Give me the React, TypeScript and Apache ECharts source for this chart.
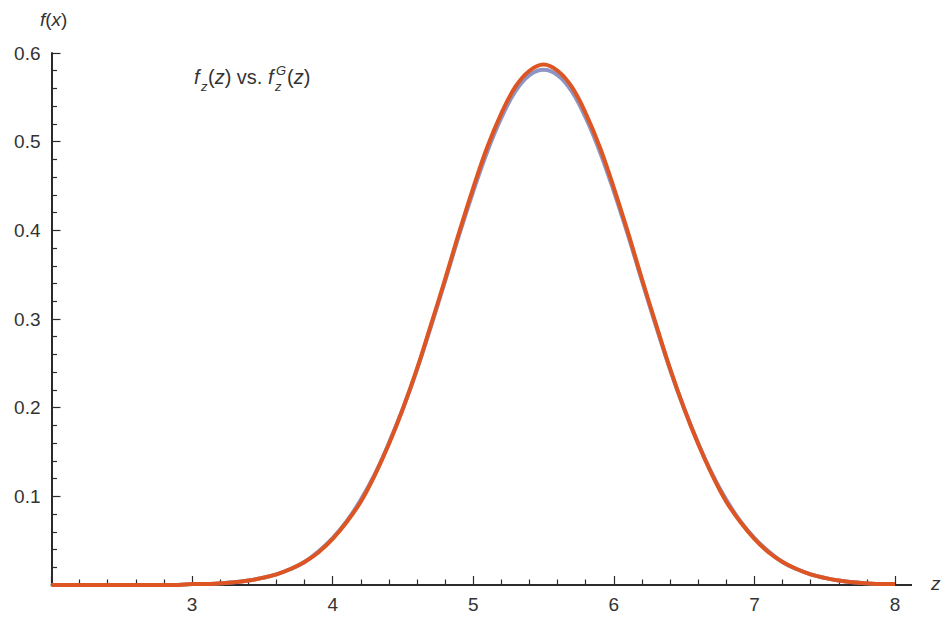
import React, { useEffect, useRef } from "react";
import * as echarts from "echarts";

const zValues = [
  2.0, 2.1, 2.2, 2.3, 2.4, 2.5, 2.6, 2.7, 2.8, 2.9,
  3.0, 3.1, 3.2, 3.3, 3.4, 3.5, 3.6, 3.7, 3.8, 3.9,
  4.0, 4.1, 4.2, 4.3, 4.4, 4.5, 4.6, 4.7, 4.8, 4.9,
  5.0, 5.1, 5.2, 5.3, 5.4, 5.5, 5.6, 5.7, 5.8, 5.9,
  6.0, 6.1, 6.2, 6.3, 6.4, 6.5, 6.6, 6.7, 6.8, 6.9,
  7.0, 7.1, 7.2, 7.3, 7.4, 7.5, 7.6, 7.7, 7.8, 7.9,
  8.0,
];

// f_z^G(z) — orange-red curve
const gaussValues = [
  0.0, 0.0, 0.0, 0.0, 0.0, 0.0, 0.0, 0.0, 0.0, 0.0,
  0.001, 0.001, 0.002, 0.003, 0.005, 0.008, 0.012, 0.018, 0.026, 0.037,
  0.052, 0.071, 0.094, 0.124, 0.159, 0.199, 0.244, 0.294, 0.345, 0.398,
  0.448, 0.494, 0.532, 0.562, 0.580, 0.587, 0.580, 0.562, 0.532, 0.494,
  0.448, 0.398, 0.345, 0.294, 0.244, 0.199, 0.159, 0.124, 0.094, 0.071,
  0.052, 0.037, 0.026, 0.018, 0.012, 0.008, 0.005, 0.003, 0.002, 0.001,
  0.001,
];

// f_z(z) — pale blue curve
const exactValues = [
  0.0, 0.0, 0.0, 0.0, 0.0, 0.0, 0.0, 0.0, 0.0, 0.0,
  0.001, 0.001, 0.002, 0.003, 0.005, 0.008, 0.012, 0.018, 0.026, 0.038,
  0.053, 0.072, 0.096, 0.125, 0.160, 0.199, 0.243, 0.292, 0.343, 0.395,
  0.444, 0.489, 0.527, 0.557, 0.575, 0.581, 0.575, 0.557, 0.527, 0.489,
  0.444, 0.395, 0.343, 0.292, 0.243, 0.199, 0.160, 0.125, 0.096, 0.072,
  0.053, 0.038, 0.026, 0.018, 0.012, 0.008, 0.005, 0.003, 0.002, 0.001,
  0.001,
];

const FONT = "'Liberation Sans', Arial, Helvetica, sans-serif";
const TEXT = "#333333";
const AXIS = "#2b2b2b";

export default function App() {
  const ref = useRef<HTMLDivElement>(null);

  useEffect(() => {
    if (!ref.current) return;
    const chart = echarts.init(ref.current, undefined, { renderer: "svg" });
    const gauss = zValues.map((z, i) => [z, gaussValues[i]]);
    const exact = zValues.map((z, i) => [z, exactValues[i]]);

    const main = { fontFamily: FONT, fontSize: 19, fill: TEXT };
    const ann = { fontFamily: FONT, fontSize: 20, fill: TEXT };
    const small = { fontFamily: FONT, fontSize: 13, fill: TEXT, fontStyle: "italic" };

    chart.setOption({
      animation: false,
      backgroundColor: "#ffffff",
      grid: { left: 51.5, right: 57, top: 53, bottom: 34 },
      xAxis: {
        type: "value",
        min: 2,
        max: 8,
        interval: 1,
        axisLine: { show: true, onZero: false, lineStyle: { color: AXIS, width: 2 } },
        axisTick: { show: true, inside: true, length: 9, lineStyle: { color: AXIS, width: 1.2 } },
        minorTick: { show: true, splitNumber: 5, length: 5.5, lineStyle: { color: AXIS, width: 1.2 } },
        splitLine: { show: false },
        axisLabel: {
          margin: 10,
          fontFamily: FONT,
          fontSize: 19,
          color: TEXT,
          formatter: (v: number) => (v === 2 ? "" : String(v)),
        },
      },
      yAxis: {
        type: "value",
        min: 0,
        max: 0.6,
        interval: 0.1,
        axisLine: { show: true, onZero: false, lineStyle: { color: AXIS, width: 2 } },
        axisTick: { show: true, inside: true, length: 9, lineStyle: { color: AXIS, width: 1.2 } },
        minorTick: { show: true, splitNumber: 5, length: 5.5, lineStyle: { color: AXIS, width: 1.2 } },
        splitLine: { show: false },
        axisLabel: {
          margin: 11,
          fontFamily: FONT,
          fontSize: 19,
          color: TEXT,
          formatter: (v: number) => (v === 0 ? "" : v.toFixed(1)),
        },
      },
      series: [
        {
          name: "f_z(z)",
          type: "line",
          data: exact,
          showSymbol: false,
          smooth: 0.4,
          lineStyle: { color: "#8D95C4", width: 4 },
          z: 2,
        },
        {
          name: "f_z^G(z)",
          type: "line",
          data: gauss,
          showSymbol: false,
          smooth: 0.4,
          lineStyle: { color: "#DD5522", width: 4 },
          z: 3,
        },
      ],
      graphic: [
        // x-axis line continuation past 8
        { type: "line", shape: { x1: 895, y1: 585, x2: 912, y2: 585 }, style: { stroke: AXIS, lineWidth: 2 } },
        // axis names
        { type: "text", x: 931, y: 583, style: { ...main, text: "z", fontStyle: "italic", verticalAlign: "middle" } },
        {
          type: "text",
          x: 40,
          y: 19,
          style: {
            text: "{i|f}{n|(}{i|x}{n|)}",
            verticalAlign: "middle",
            rich: {
              i: { ...main, fontStyle: "italic" },
              n: { ...main },
            },
          },
        },
        // annotation f_z(z) vs. f_z^G(z)
        { type: "text", x: 194, y: 77, style: { ...ann, text: "f", fontStyle: "italic", verticalAlign: "middle" } },
        { type: "text", x: 201, y: 86, style: { ...small, text: "z", verticalAlign: "middle" } },
        {
          type: "text",
          x: 208,
          y: 77,
          style: {
            text: "{n|(}{i|z}{n|) vs.}",
            verticalAlign: "middle",
            rich: { i: { ...ann, fontStyle: "italic" }, n: { ...ann } },
          },
        },
        { type: "text", x: 268, y: 77, style: { ...ann, text: "f", fontStyle: "italic", verticalAlign: "middle" } },
        { type: "text", x: 275, y: 86, style: { ...small, text: "z", verticalAlign: "middle" } },
        { type: "text", x: 276, y: 70, style: { ...small, text: "G", verticalAlign: "middle" } },
        {
          type: "text",
          x: 287,
          y: 77,
          style: {
            text: "{n|(}{i|z}{n|)}",
            verticalAlign: "middle",
            rich: { i: { ...ann, fontStyle: "italic" }, n: { ...ann } },
          },
        },
      ],
    });

    return () => chart.dispose();
  }, []);

  return (
    <div
      ref={ref}
      style={{ position: "absolute", left: 0, top: 0, width: 952, height: 619, background: "#fff" }}
    />
  );
}
